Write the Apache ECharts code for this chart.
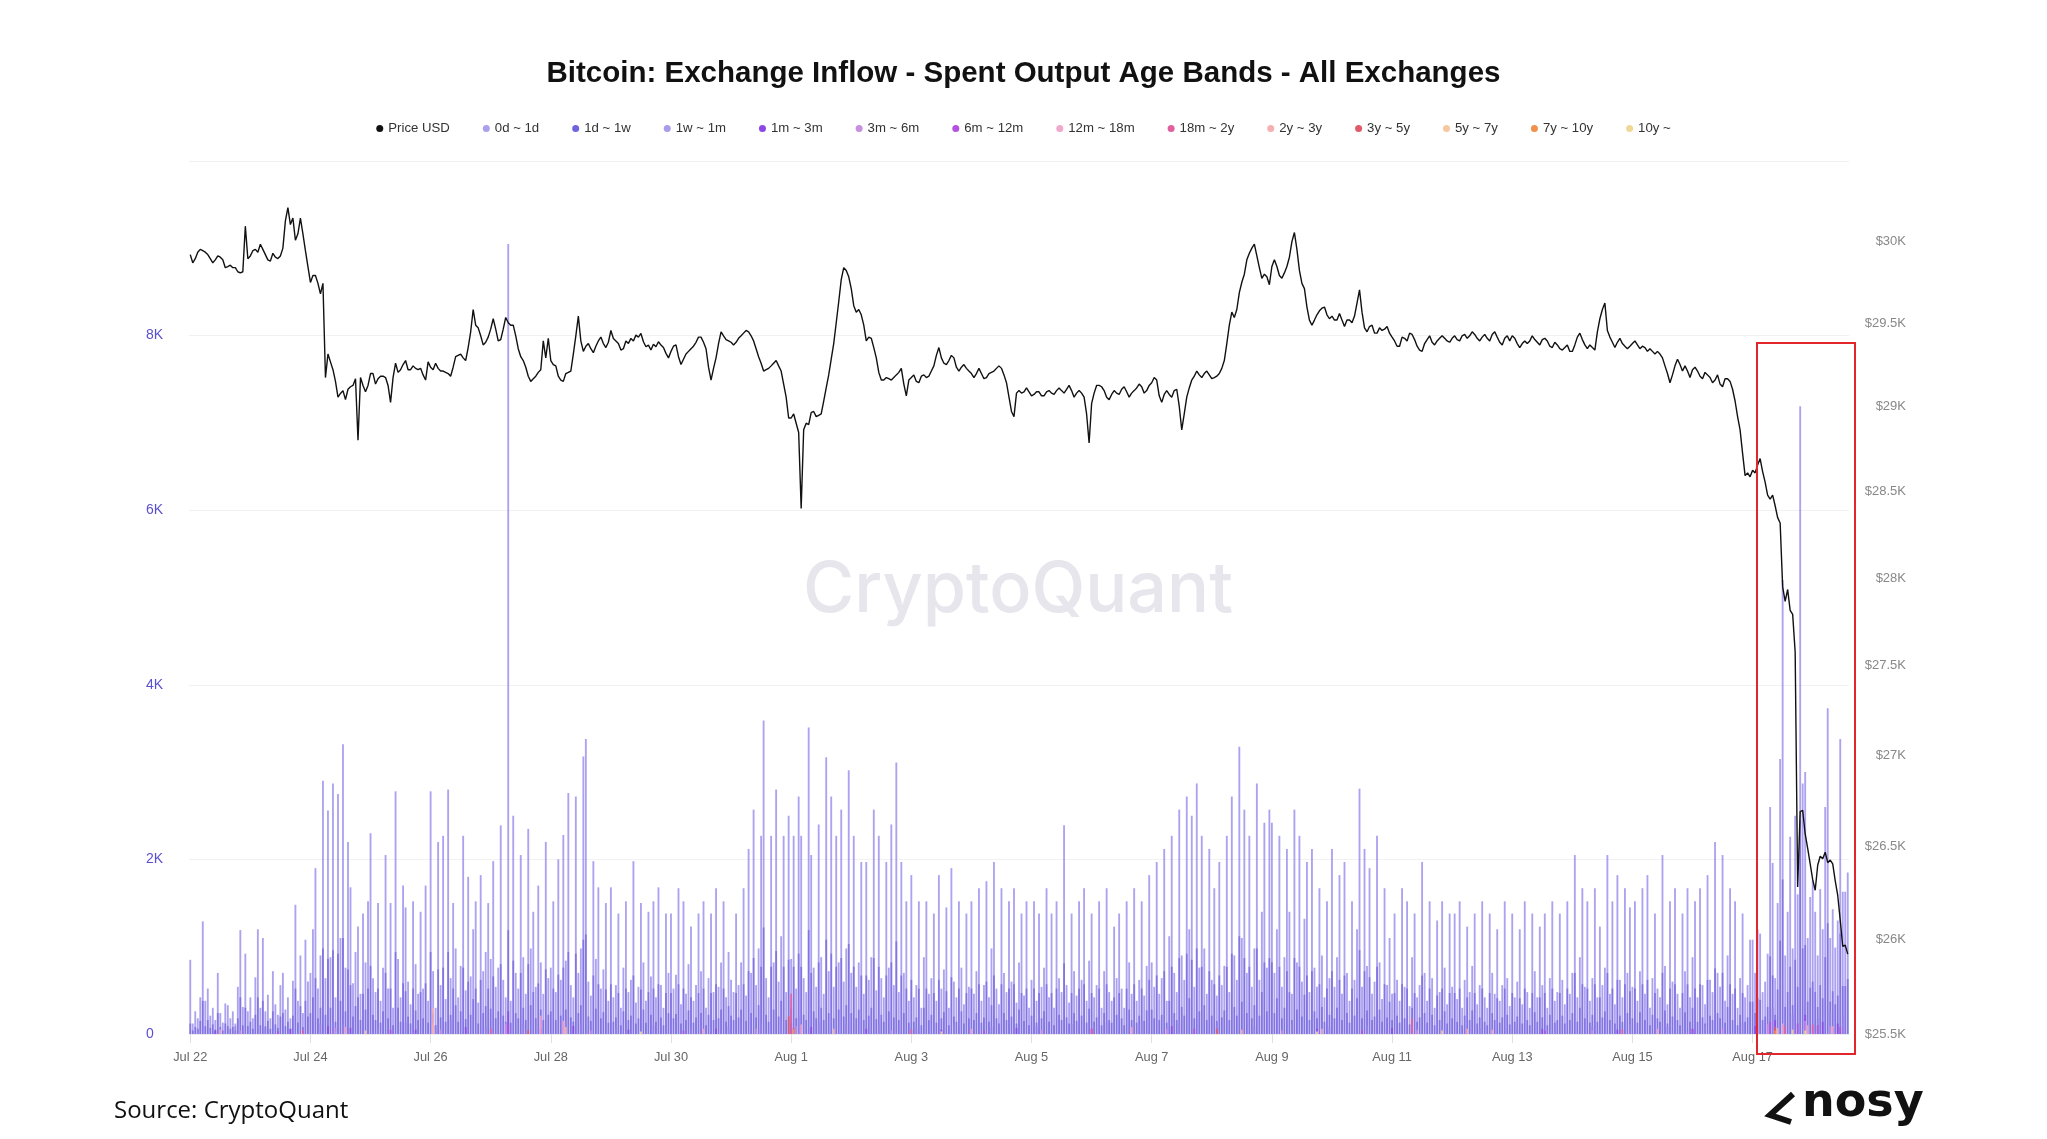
<!DOCTYPE html>
<html><head><meta charset="utf-8">
<script src="https://cdn.jsdelivr.net/npm/echarts@6/dist/echarts.min.js"></script>
<style>html,body{margin:0;padding:0;background:#fff}#c{width:2047px;height:1139px}</style>
</head><body><div id="c"></div>
<script>
// ---- data (hourly, starting 2023-07-22 00:00 UTC) ----
const startUTC = [2023, 6, 22];
const tickLabels = ['Jul 22','Jul 24','Jul 26','Jul 28','Jul 30','Aug 1','Aug 3','Aug 5','Aug 7','Aug 9','Aug 11','Aug 13','Aug 15','Aug 17'];
const priceTicks = [25500,26000,26500,27000,27500,28000,28500,29000,29500,30000];
const bandNames = ['0d ~ 1d','1d ~ 1w','1w ~ 1m','1m ~ 3m','3m ~ 6m','6m ~ 12m','12m ~ 18m','18m ~ 2y','2y ~ 3y','3y ~ 5y','5y ~ 7y','7y ~ 10y','10y ~'];

const priceUSD = [
29920,29870,29895,29935,29952,29944,29935,29920,29895,29870,29888,29912,29904,29888,29840,29847,29855,29840,29840,29815,29808,29815,30095,29895,
29912,29944,29952,29935,29984,29952,29920,29888,29880,29928,29904,29896,29912,29960,30128,30210,30105,30145,30008,30048,30145,30048,29944,29847,
29750,29792,29792,29744,29680,29744,29175,29316,29269,29222,29152,29058,29080,29097,29043,29105,29120,29128,29168,28802,29175,29128,29090,29128,
29199,29199,29136,29168,29183,29183,29175,29128,29027,29175,29261,29206,29222,29253,29277,29222,29222,29245,29230,29222,29230,29191,29160,29269,
29237,29222,29261,29230,29214,29214,29206,29199,29183,29237,29300,29308,29316,29293,29277,29355,29450,29585,29490,29474,29426,29371,29387,29418,
29466,29529,29466,29395,29403,29466,29537,29505,29490,29490,29426,29348,29300,29277,29237,29183,29152,29168,29183,29206,29222,29395,29293,29411,
29277,29253,29245,29183,29160,29152,29199,29206,29214,29316,29426,29545,29395,29332,29363,29379,29348,29324,29363,29395,29418,29379,29355,29387,
29458,29410,29395,29380,29340,29348,29395,29380,29410,29395,29430,29418,29440,29390,29360,29370,29340,29375,29360,29390,29370,29355,29320,29293,
29332,29363,29371,29300,29253,29285,29316,29332,29348,29363,29387,29418,29418,29387,29348,29237,29160,29230,29293,29379,29450,29426,29403,29395,
29387,29371,29387,29411,29426,29442,29458,29450,29426,29395,29348,29300,29261,29214,29222,29230,29245,29261,29277,29245,29214,29136,29058,28934,
28934,28958,28903,28848,28402,28864,28903,28895,28966,28973,28942,28950,28958,29035,29113,29191,29285,29379,29505,29632,29767,29840,29823,29784,
29712,29608,29569,29585,29553,29490,29395,29418,29411,29355,29293,29206,29160,29160,29175,29168,29160,29175,29191,29206,29230,29136,29066,29160,
29175,29191,29152,29144,29183,29191,29175,29183,29214,29245,29308,29355,29293,29261,29253,29277,29308,29293,29237,29214,29237,29253,29230,29214,
29199,29175,29199,29230,29199,29168,29175,29199,29206,29214,29230,29245,29230,29191,29144,29058,28973,28942,29082,29097,29082,29090,29113,29090,
29066,29074,29090,29090,29066,29066,29090,29097,29082,29074,29097,29113,29097,29082,29105,29128,29097,29058,29082,29097,29082,29058,28958,28787,
29019,29082,29128,29128,29120,29097,29058,29043,29074,29097,29082,29074,29105,29120,29090,29058,29082,29097,29113,29136,29120,29082,29097,29128,
29144,29175,29160,29066,29027,29074,29097,29074,29058,29097,29105,29004,28864,28958,29058,29113,29160,29183,29214,29191,29175,29199,29214,29191,
29168,29175,29183,29199,29230,29277,29379,29490,29569,29537,29585,29688,29751,29800,29888,29928,29960,29984,29912,29840,29775,29800,29784,29736,
29847,29888,29847,29792,29775,29808,29847,29904,30000,30056,29952,29823,29744,29712,29600,29521,29490,29521,29553,29577,29593,29600,29553,29529,
29545,29521,29521,29561,29521,29482,29521,29521,29505,29545,29624,29704,29569,29474,29450,29482,29490,29442,29442,29474,29458,29466,29482,29442,
29418,29395,29363,29363,29418,29411,29395,29442,29434,29403,29363,29340,29332,29379,29403,29426,29387,29371,29395,29411,29426,29411,29395,29387,
29411,29426,29403,29395,29426,29434,29411,29426,29450,29434,29411,29395,29418,29434,29411,29395,29434,29450,29418,29387,29371,29411,29426,29395,
29426,29411,29379,29355,29379,29395,29379,29395,29426,29403,29387,29371,29403,29411,29395,29363,29355,29387,29371,29348,29340,29355,29371,29332,
29332,29371,29418,29442,29403,29371,29348,29371,29355,29340,29450,29529,29585,29624,29458,29418,29387,29355,29387,29411,29379,29363,29348,29363,
29379,29395,29371,29348,29363,29355,29332,29348,29332,29316,29332,29316,29293,29245,29199,29144,29191,29245,29285,29253,29214,29245,29214,29175,
29222,29237,29214,29183,29168,29206,29191,29175,29144,29160,29191,29136,29120,29168,29168,29152,29105,29035,28942,28864,28725,28594,28610,28587,
28625,28610,28656,28694,28618,28556,28480,28457,28480,28418,28349,28318,27949,27866,27934,27815,27792,27577,26280,26690,26697,26568,26490,26405,
26320,26263,26398,26447,26433,26469,26412,26426,26405,26313,26235,26102,25962,25969,25921
];

const band0d1d = [
850,120,260,180,420,1290,380,520,210,300,160,700,240,130,350,330,180,260,120,540,1190,310,920,260,
420,180,650,1200,300,1100,260,450,180,720,340,220,560,700,280,420,180,610,1480,380,900,240,1080,600,
700,1200,1900,520,900,2900,640,2560,880,2870,420,2750,1100,3320,760,2200,1680,580,940,1230,460,1380,820,1520,
2300,640,480,1500,380,760,2050,520,1500,300,2780,860,420,1700,1450,600,340,1520,800,460,1400,520,1700,380,
2780,720,300,2200,560,2270,400,2800,640,1500,980,420,780,2270,500,1800,660,1200,1520,360,1820,720,940,1500,
860,1980,540,760,2390,620,420,9050,380,2500,700,520,2050,880,460,2350,980,1400,540,1700,820,460,2200,640,
760,1520,480,2000,620,2280,840,2760,560,420,2720,700,980,3180,3380,600,440,1980,860,1680,520,740,1500,380,
1680,420,560,1380,300,760,1520,480,620,1980,360,540,1500,820,380,1400,660,1520,420,1680,560,300,1380,700,
1380,520,680,1670,340,1520,460,800,1230,380,560,1380,720,1520,300,640,1380,480,1670,540,820,1520,420,940,
620,480,1380,560,820,1670,440,2120,700,2570,560,980,2270,3590,640,420,2270,820,2800,600,1120,2270,480,2500,
860,2270,520,2720,2270,640,480,3510,2050,760,540,2400,880,460,3170,720,2720,540,2270,820,2570,600,980,3020,
700,2270,540,820,1970,460,1970,620,880,2570,500,2270,640,420,1970,760,2400,560,3110,480,1970,700,1520,380,
1820,420,560,1520,300,880,1520,460,640,1380,380,1820,520,740,1450,300,1900,600,420,1520,760,340,1380,540,
1520,460,720,1670,380,560,1750,420,980,1970,520,340,1670,700,480,1520,600,1670,360,820,1380,440,1520,300,
620,1520,380,1380,540,760,1670,420,1380,300,1520,640,480,2390,560,360,1380,720,440,1520,620,1670,380,840,
1380,420,560,1520,300,720,1670,480,380,1230,640,1380,520,300,1520,820,460,1670,380,620,1520,440,780,1820,
820,540,1970,460,640,2120,380,1120,2270,700,480,2570,900,620,2720,1200,2500,540,2870,760,2270,980,460,2120,
620,1670,440,1970,560,780,2270,480,2720,900,620,3290,1100,2570,700,2270,540,980,2870,620,1400,2420,760,2570,
2420,700,1200,2270,540,880,2120,1400,460,2570,820,2270,600,1320,1970,480,2120,760,540,1670,900,420,1520,640,
2120,540,880,1820,460,1970,700,380,1520,620,1200,2810,540,2120,780,1900,460,600,2270,820,400,1670,560,1100,
460,1380,620,380,1670,540,1520,320,880,1380,420,560,1970,700,380,1520,640,300,1300,480,1520,760,340,1380,
540,1380,400,1520,300,620,1230,480,780,1380,340,560,1520,420,300,1380,700,460,1200,380,560,1520,640,320,
1380,420,600,1200,340,1520,480,300,1380,720,420,1230,560,1380,300,640,1520,380,480,1380,620,340,1520,460,
700,2050,420,880,1670,540,1520,380,640,1670,420,1230,560,760,2050,460,1520,340,1820,620,420,1670,700,1450,
540,1520,380,720,1670,460,1820,300,640,1380,520,420,2050,780,340,1520,600,1670,460,300,1380,720,1670,420,
880,1520,420,1670,560,340,1820,620,480,2200,700,540,2050,380,900,1670,460,1520,300,640,1380,420,560,1080,
1080,700,1200,1150,480,600,920,2600,1960,640,1500,3150,5200,900,1400,2260,980,2500,1600,7190,2870,3000,1100,1570,
1760,1400,900,1660,1200,2600,3730,1100,1430,990,1300,3380,1630,1630,1850
];

const band1d1w = [
120,40,80,60,150,380,90,160,70,110,50,240,80,40,120,90,60,80,40,180,420,100,300,90,
140,60,220,420,100,380,90,150,60,260,110,70,200,240,90,140,60,210,520,130,320,80,380,200,
240,420,640,180,300,980,220,860,300,960,140,920,380,1100,260,740,560,200,320,420,160,460,280,520,
780,220,160,520,130,260,700,180,520,100,940,300,140,580,490,200,120,520,270,160,480,180,580,130,
940,240,100,740,190,760,140,940,220,520,330,140,260,760,170,600,220,400,520,120,620,240,320,520,
290,660,180,260,800,210,140,1190,130,840,240,180,700,300,160,800,330,480,180,580,280,160,740,220,
260,520,160,680,210,760,280,940,190,140,920,240,330,1080,1140,200,150,670,290,570,180,250,510,130,
570,140,190,470,100,260,520,160,210,670,120,180,510,280,130,480,220,520,140,570,190,100,470,240,
470,180,230,570,120,520,160,270,420,130,190,470,240,520,100,220,470,160,570,180,280,520,140,320,
210,160,470,190,280,570,150,720,240,870,190,330,770,1220,220,140,770,280,950,200,380,770,160,850,
290,770,180,920,770,220,160,1190,700,260,180,820,300,160,1080,240,920,180,770,280,870,200,330,1030,
240,770,180,280,670,160,670,210,300,870,170,770,220,140,670,260,820,190,1060,160,670,240,520,130,
620,140,190,520,100,300,520,160,220,470,130,620,180,250,490,100,650,200,140,520,260,120,470,180,
520,160,240,570,130,190,600,140,330,670,180,120,570,240,160,520,200,570,120,280,470,150,520,100,
210,520,130,470,180,260,570,140,470,100,520,220,160,810,190,120,470,240,150,520,210,570,130,290,
470,140,190,520,100,240,570,160,130,420,220,470,180,100,520,280,160,570,130,210,520,150,270,620,
280,180,670,160,220,720,130,380,770,240,160,870,310,210,920,410,850,180,980,260,770,330,160,720,
210,570,150,670,190,270,770,160,920,310,210,1120,370,870,240,770,180,330,980,210,480,820,260,870,
820,240,410,770,180,300,720,480,160,870,280,770,200,450,670,160,720,260,180,570,310,140,520,220,
720,180,300,620,160,670,240,130,520,210,410,960,180,720,270,650,160,200,770,280,140,570,190,370,
160,470,210,130,570,180,520,110,300,470,140,190,670,240,130,520,220,100,440,160,520,260,120,470,
180,470,140,520,100,210,420,160,270,470,120,190,520,140,100,470,240,160,410,130,190,520,220,110,
470,140,200,410,120,520,160,100,470,250,140,420,190,470,100,220,520,130,160,470,210,120,520,160,
240,700,140,300,570,180,520,130,220,570,140,420,190,260,700,160,520,120,620,210,140,570,240,490,
180,520,130,250,570,160,620,100,220,470,180,140,700,270,120,520,200,570,160,100,470,250,570,140,
300,520,140,570,190,120,620,210,160,750,240,180,700,130,310,570,160,520,100,220,470,140,190,370,
370,240,410,390,160,200,310,890,670,220,510,1070,1770,310,480,770,330,850,540,2450,980,1020,370,530,
600,480,310,560,410,880,1270,370,490,340,440,1150,550,550,630
];

// smaller bands: [hour index, value]
const band1w1m = [[3,60],[18,90],[30,70],[52,120],[57,150],[61,110],[75,80],[86,130],[98,100],[104,160],[118,90],[127,380],[133,120],[150,140],[156,110],[170,80],[185,100],[200,70],[215,90],[228,120],[236,150],[243,200],[251,130],[262,110],[275,90],[290,70],[305,100],[320,80],[338,90],[352,110],[366,130],[380,150],[395,120],[410,100],[425,90],[440,110],[455,80],[470,100],[488,90],[500,80],[515,70],[530,90],[545,100],[560,90],[575,110],[590,80],[605,100],[620,130],[632,300],[640,220],[645,400],[650,180],[655,260],[660,200]];
const band1m3m = [[10,40],[40,60],[55,90],[64,70],[90,50],[110,80],[127,260],[140,60],[153,90],[175,50],[210,60],[240,120],[248,80],[270,60],[300,50],[330,70],[360,60],[392,90],[420,50],[450,60],[480,70],[510,50],[540,60],[570,50],[600,60],[625,90],[633,160],[645,220],[652,140],[658,120]];
const band3m6m = [[20,40],[58,70],[100,50],[126,120],[160,40],[226,60],[242,90],[280,40],[340,50],[390,60],[436,40],[490,50],[560,40],[612,60],[630,110],[645,150],[655,90]];
const band6m12m = [[35,30],[80,50],[127,100],[197,40],[241,70],[317,40],[401,60],[468,40],[541,40],[600,50],[631,140],[642,120],[650,100],[659,80]];
const band12m18m = [[12,50],[62,80],[97,120],[140,210],[149,150],[205,60],[244,110],[312,60],[376,80],[452,60],[520,50],[586,60],[636,120],[646,100],[656,90]];
const band18m2y = [[45,40],[120,60],[240,460],[288,50],[360,60],[488,180],[572,50],[637,90],[648,110]];
const band2y3y = [[97,300],[150,80],[257,60],[420,50],[510,60],[634,70]];
const band3y5y = [[135,40],[239,200],[410,60],[633,80]];
const band5y7y = [[70,40],[300,30],[500,40],[640,50]];
const band7y10y = [[241,60],[633,40]];
const band10y = [[180,30],[450,30],[645,40]];

const bandData = [band0d1d, band1d1w, band1w1m, band1m3m, band3m6m, band6m12m, band12m18m, band18m2y, band2y3y, band3y5y, band5y7y, band7y10y, band10y];
const bandFill = ['rgba(125,110,232,0.64)','rgba(90,70,215,0.5)','rgba(150,130,230,0.75)','rgba(140,70,230,0.8)','rgba(200,140,225,0.85)','rgba(181,80,224,0.85)','rgba(240,160,200,0.9)','rgba(224,96,158,0.9)','rgba(245,176,176,0.9)','rgba(224,90,106,0.9)','rgba(245,200,160,0.9)','rgba(240,144,74,0.9)','rgba(240,216,152,0.9)'];
const bandLegend = ['#aaa1ee','#6f63e0','#a99ce8','#8c47e8','#c890e0','#b550e0','#f0a8cc','#e0609e','#f5b0b0','#e05a6a','#f5c8a0','#f0904a','#f0d898'];

// hourly category labels
const categories = priceUSD.map((_, i) => {
  const d = new Date(Date.UTC(startUTC[0], startUTC[1], startUTC[2], i));
  return d.toISOString().slice(0, 16).replace('T', ' ');
});

const chart = echarts.init(document.getElementById('c'), null, {renderer: 'canvas'});
const FONT = '"Liberation Sans", Arial, Helvetica, sans-serif';

const series = bandNames.map((n, k) => ({
  name: n, type: 'bar', xAxisIndex: 0, yAxisIndex: 0,
  data: bandData[k], barGap: '-100%', barCategoryGap: '26%',
  itemStyle: {color: bandFill[k]}, emphasis: {disabled: true}, z: 2
}));
series.push({
  name: 'Price USD', type: 'line', yAxisIndex: 1, data: priceUSD,
  symbol: 'none', showSymbol: false, lineStyle: {color: '#111', width: 1.4}, itemStyle: {color: '#111'}, z: 5
});

const legendData = [{name: 'Price USD', itemStyle: {color: '#111'}}].concat(
  bandNames.map((n, k) => ({name: n, itemStyle: {color: bandLegend[k]}}))
);

chart.setOption({
  backgroundColor: '#ffffff',
  animation: false,
  title: {
    text: 'Bitcoin: Exchange Inflow - Spent Output Age Bands - All Exchanges',
    left: 'center', top: 54,
    textStyle: {fontFamily: FONT, fontWeight: 'bold', fontSize: 29.5, color: '#111'}
  },
  legend: {
    data: legendData, top: 117, left: 'center', icon: 'circle',
    itemWidth: 7, itemHeight: 7, itemGap: 33,
    textStyle: {fontFamily: FONT, fontSize: 13.2, color: '#333'}
  },
  grid: {left: 189, right: 198, top: 161, bottom: 105, containLabel: false},
  xAxis: {
    type: 'category', data: categories, boundaryGap: true,
    axisLine: {show: true, lineStyle: {color: '#ececec'}},
    axisTick: {show: true, alignWithLabel: true, interval: (i) => i % 48 === 0, length: 9, lineStyle: {color: '#e0e0e0'}},
    axisLabel: {
      interval: (i) => i % 48 === 0,
      formatter: (v, i) => tickLabels[i / 48] || '',
      color: '#666', fontFamily: FONT, fontSize: 12.8, margin: 17
    },
    splitLine: {show: false}
  },
  yAxis: [
    {
      type: 'value', min: 0, max: 10000, interval: 2000, position: 'left',
      axisLine: {show: false}, axisTick: {show: false},
      axisLabel: {showMaxLabel: false, align: 'left', margin: 43, color: '#5a4fd0', fontFamily: FONT, fontSize: 14,
        formatter: (v) => v === 0 ? '0' : (v / 1000) + 'K'},
      splitLine: {lineStyle: {color: '#f1f1f1'}}
    },
    {
      type: 'log', logBase: 10, min: 25500, max: 30500, position: 'right',
      axisLine: {show: false}, axisTick: {show: false, customValues: priceTicks},
      splitLine: {show: false}, minorTick: {show: false},
      axisLabel: {customValues: priceTicks, align: 'right', margin: 57, color: '#888', fontFamily: FONT, fontSize: 13,
        formatter: (v) => '$' + (Math.round(v / 100) / 10) + 'K'}
    }
  ],
  series: series,
  graphic: [
    {type: 'text', x: 1018, y: 591, z: 0, silent: true,
      style: {text: 'CryptoQuant', align: 'center', verticalAlign: 'middle', fontFamily: 'Inter, "Noto Sans", sans-serif', fontSize: 70, fontWeight: 500, fill: '#e6e6ec'}},
    {type: 'rect', z: 100, silent: true, shape: {x: 1757, y: 343, width: 98, height: 711},
      style: {fill: 'none', stroke: '#e3262b', lineWidth: 2}},
    {type: 'text', left: 114, top: 1099, z: 100,
      style: {text: 'Source: CryptoQuant', fontFamily: '"Open Sans", sans-serif', fontSize: 24, fill: '#111'}},
    {type: 'polyline', z: 100, shape: {points: [[1793, 1094], [1770, 1115], [1791, 1122]]},
      style: {stroke: '#111', lineWidth: 6, fill: 'none', lineJoin: 'miter', lineCap: 'butt'}},
    {type: 'text', left: 1802, top: 1081, z: 100,
      style: {text: 'nosy', fontFamily: '"DejaVu Sans", sans-serif', fontWeight: 'bold', fontSize: 46, fill: '#111'}}
  ]
});
</script>
</body></html>
